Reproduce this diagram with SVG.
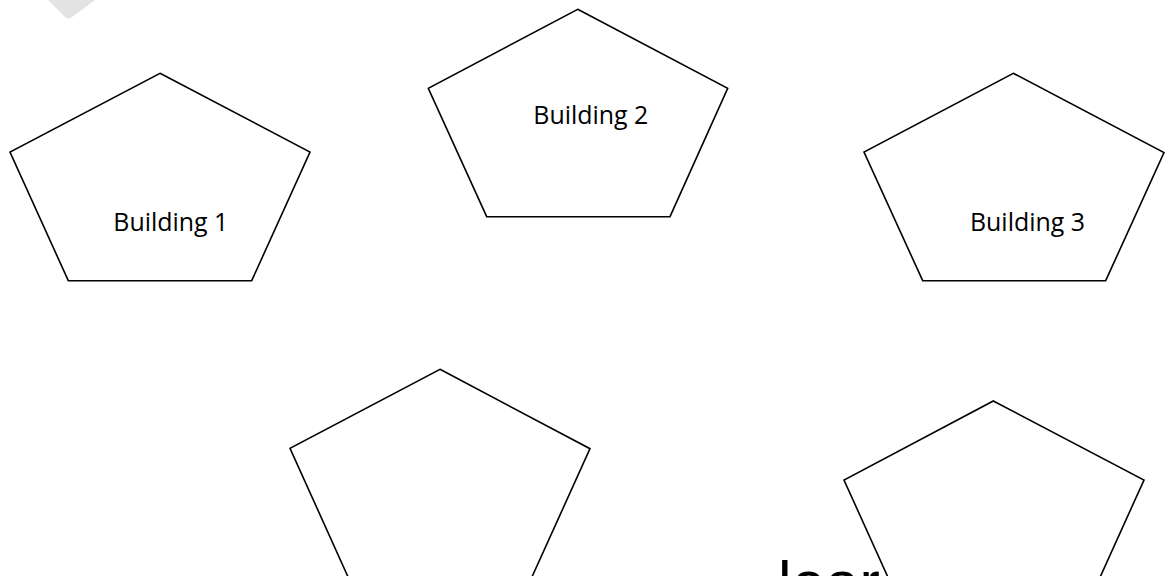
<svg xmlns="http://www.w3.org/2000/svg" width="1168" height="576" viewBox="0 0 1168 576">
<style>
.pent{fill:#fff;stroke:#000;stroke-width:1.6;stroke-linejoin:miter}
.lbl{font-family:"Open Sans","Noto Sans",sans-serif;font-size:26px;fill:#000;text-anchor:middle}
</style>
<rect x="0" y="0" width="1168" height="576" fill="#fff"/>
<path d="M48,0 L95,0 L72,17 Q68,20 65,17 Z" fill="#e3e3e3"/>
<g id="building1">
<polygon class="pent" points="160,73.3 310,152 251.7,280.7 68.3,280.7 10,152"/>
<text class="lbl" x="170.8" y="230.7" textLength="115" lengthAdjust="spacingAndGlyphs">Building 1</text>
</g>
<g id="building2">
<polygon class="pent" points="577.7,9.3 727.7,88.3 670,216.7 486.7,216.7 428.3,88.3"/>
<text class="lbl" x="590.8" y="124" textLength="115" lengthAdjust="spacingAndGlyphs">Building 2</text>
</g>
<g id="building3">
<polygon class="pent" points="1013.3,73.3 1164,152.5 1105.7,280.7 922.7,280.7 864,152"/>
<text class="lbl" x="1027.5" y="230.7" textLength="115" lengthAdjust="spacingAndGlyphs">Building 3</text>
</g>
<g id="building4">
<polygon class="pent" points="440,369.3 590,448.7 531.7,577.5 348.3,577.5 290,448.3"/>
</g>
<g id="building5">
<polygon class="pent" points="993.3,401 1144,480 1085.7,609 902.3,609 844,480"/>
</g>
<g id="connectors"></g>
<text x="778" y="603.7" font-family="Liberation Sans, Arial, sans-serif" font-size="61" fill="#000">lear</text>
</svg>
